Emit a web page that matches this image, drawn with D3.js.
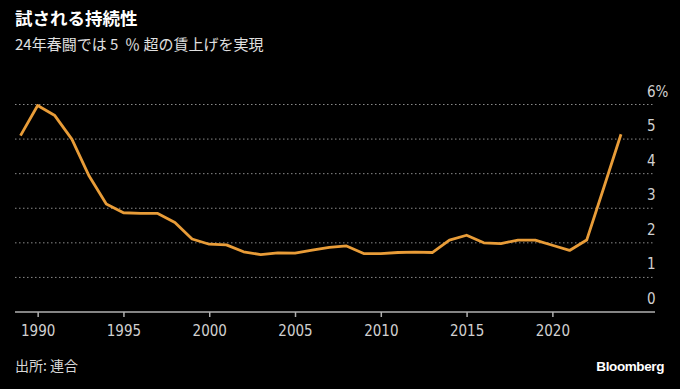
<!DOCTYPE html>
<html><head>
<meta charset="utf-8">
<title>試される持続性</title>
<script src="https://cdn.jsdelivr.net/npm/d3@7/dist/d3.min.js"></script>
<style>
  body { margin: 0; background: #000; }
  svg { display: block; background: #000; }
  .title { fill: #fff; font: bold 17.5px "Noto Sans CJK JP", sans-serif; }
  .subtitle { fill: #e0e0e0; font: 15px "Noto Sans CJK JP", sans-serif; white-space: pre; }
  .grid line { stroke: #8a8a8a; stroke-width: 1; stroke-dasharray: 1.5 2.5; }
  .x-axis path, .x-axis line { stroke: #b0b0b0; stroke-width: 1.5; }
  .x-axis text, .y-label { fill: #d0d0d0; font: 15px "Liberation Sans Narrow", "DejaVu Sans Condensed", sans-serif; }
  .source { fill: #d8d8d8; font: 14px "Noto Sans CJK JP", sans-serif; }
  .brand { fill: #fff; font: bold 13.5px "Liberation Sans", Arial, sans-serif; letter-spacing: -0.4px; }
  .wage-line { fill: none; stroke: #e89c38; stroke-width: 2.8; stroke-linejoin: round; }
</style>
</head>
<body>
<svg id="chart" width="680" height="389"></svg>

<script type="text/javascript">

// 連合 春闘 賃上げ率 (%)
var years = [1989, 1990, 1991, 1992, 1993, 1994, 1995, 1996, 1997, 1998,
             1999, 2000, 2001, 2002, 2003, 2004, 2005, 2006, 2007, 2008,
             2009, 2010, 2011, 2012, 2013, 2014, 2015, 2016, 2017, 2018,
             2019, 2020, 2021, 2022, 2023, 2024]
var wageRise = [5.10, 5.97, 5.68, 4.99, 3.93, 3.12, 2.87, 2.85, 2.85, 2.59,
                2.11, 1.96, 1.94, 1.74, 1.66, 1.71, 1.70, 1.79, 1.87, 1.91,
                1.69, 1.69, 1.72, 1.73, 1.72, 2.08, 2.22, 2.00, 1.98, 2.08,
                2.08, 1.93, 1.78, 2.08, 3.60, 5.14]

var xTicks = [1990, 1995, 2000, 2005, 2010, 2015, 2020]
var yTicks = [0, 1, 2, 3, 4, 5, 6]

var titleText = "試される持続性"
var subtitleText = "24年春闘では 5  ％ 超の賃上げを実現"
var sourceText = "出所: 連合"

var svg = d3.select("#chart")

var xScale = d3.scaleLinear()
  .domain([1989, 2024])
  .range([20.5, 621])

var yScale = d3.scaleLinear()
  .domain([0, 6])
  .range([312, 104.5])

// titles
svg.append("text").attr("class", "title").attr("x", 15).attr("y", 25).text(titleText)
svg.append("text").attr("class", "subtitle").attr("x", 15).attr("y", 50).text(subtitleText)

// dotted gridlines (not at zero, the axis sits there)
svg.append("g").attr("class", "grid")
  .selectAll("line")
  .data(yTicks.filter(function(d) { return d > 0 }))
  .join("line")
  .attr("x1", 15)
  .attr("x2", 655)
  .attr("y1", function(d) { return yScale(d) })
  .attr("y2", function(d) { return yScale(d) })

// y labels sit above their gridline, right side
svg.append("g")
  .selectAll("text")
  .data(yTicks)
  .join("text")
  .attr("class", "y-label")
  .attr("x", 647)
  .attr("y", function(d) { return yScale(d) - 8 })
  .text(function(d) { return d === 6 ? d + "%" : d })

// x axis
var xAxis = d3.axisBottom(xScale)
  .tickValues(xTicks)
  .tickFormat(d3.format("d"))
  .tickSize(5)
  .tickSizeOuter(0)
  .tickPadding(8)

var xg = svg.append("g")
  .attr("class", "x-axis")
  .attr("transform", "translate(0," + yScale(0) + ")")
  .call(xAxis)
xg.select(".domain").attr("d", "M15,0H655")

// line
var line = d3.line()
  .x(function(d, i) { return xScale(years[i]) })
  .y(function(d) { return yScale(d) })

svg.append("path")
  .attr("class", "wage-line")
  .attr("d", line(wageRise))

// footer
svg.append("text").attr("class", "source").attr("x", 15).attr("y", 371).text(sourceText)
svg.append("text").attr("class", "brand").attr("x", 664).attr("y", 371)
  .attr("text-anchor", "end").text("Bloomberg")

</script>
</body>
</html>
